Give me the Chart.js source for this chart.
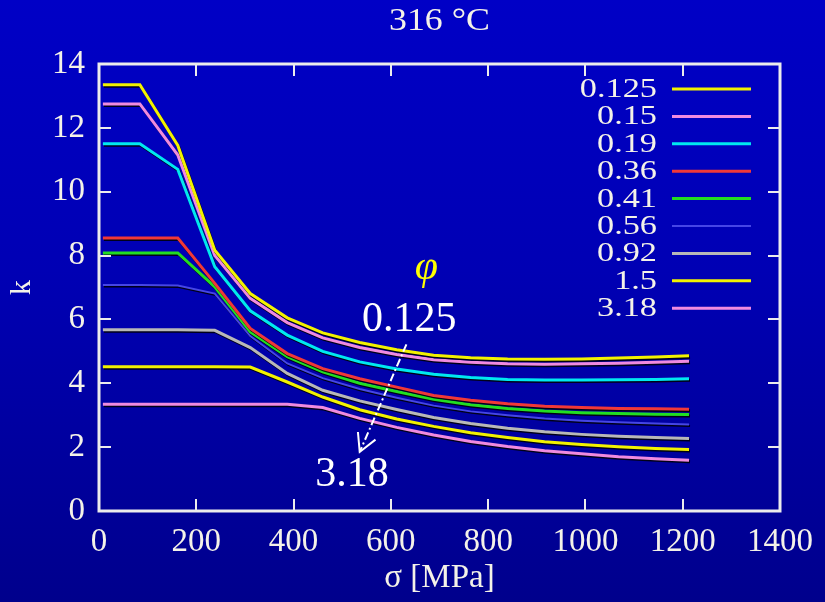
<!DOCTYPE html>
<html>
<head>
<meta charset="utf-8">
<script src="https://cdn.jsdelivr.net/npm/chart.js@4/dist/chart.umd.min.js"></script>
<style>
  html, body { margin: 0; padding: 0; }
  body { width: 825px; height: 602px; overflow: hidden;
         background: linear-gradient(to bottom, #0000c6 0%, #0000b4 45%, #00008c 100%); }
  canvas { display: block; }
</style>
</head>
<body>
<canvas id="c" width="825" height="602"></canvas>
<script>
// ---- data ----
const sigma = [8, 84, 162, 238, 311, 387, 460, 536, 612, 688, 764, 840, 916, 992, 1068, 1144, 1213];
const phiLabels = ['0.125', '0.15', '0.19', '0.36', '0.41', '0.56', '0.92', '1.5', '3.18'];
const k_0125 = [13.35, 13.35, 11.45, 8.17, 6.81, 6.05, 5.58, 5.28, 5.05, 4.88, 4.80, 4.76, 4.75, 4.76, 4.79, 4.82, 4.86];
const k_015  = [12.75, 12.75, 11.15, 8.00, 6.66, 5.90, 5.42, 5.12, 4.90, 4.74, 4.66, 4.61, 4.60, 4.61, 4.63, 4.66, 4.69];
const k_019  = [11.50, 11.50, 10.70, 7.65, 6.27, 5.51, 5.00, 4.67, 4.45, 4.28, 4.18, 4.12, 4.10, 4.10, 4.11, 4.12, 4.14];
const k_036  = [8.55, 8.55, 8.55, 7.13, 5.72, 4.93, 4.46, 4.14, 3.88, 3.62, 3.47, 3.36, 3.28, 3.24, 3.21, 3.20, 3.19];
const k_041  = [8.08, 8.08, 8.08, 7.02, 5.61, 4.83, 4.36, 4.00, 3.74, 3.50, 3.33, 3.21, 3.13, 3.08, 3.05, 3.03, 3.02];
const k_056  = [7.08, 7.08, 7.06, 6.81, 5.48, 4.62, 4.16, 3.82, 3.55, 3.30, 3.12, 3.00, 2.90, 2.83, 2.78, 2.74, 2.71];
const k_092  = [5.68, 5.68, 5.68, 5.66, 5.12, 4.31, 3.78, 3.45, 3.18, 2.93, 2.74, 2.59, 2.48, 2.40, 2.34, 2.30, 2.27];
const k_15   = [4.52, 4.52, 4.52, 4.52, 4.51, 4.04, 3.57, 3.17, 2.88, 2.65, 2.45, 2.30, 2.17, 2.08, 2.01, 1.96, 1.93];
const k_318  = [3.34, 3.34, 3.34, 3.34, 3.34, 3.34, 3.24, 2.90, 2.62, 2.38, 2.18, 2.02, 1.89, 1.79, 1.70, 1.64, 1.59];
const xTicks = [0, 200, 400, 600, 800, 1000, 1200, 1400];
const yTicks = [0, 2, 4, 6, 8, 10, 12, 14];
const titleText = '316 °C';
const xTitle = 'σ [MPa]';
const yTitle = 'k';
const phiSymbol = 'φ';
const arrowFrom = '0.125';
const arrowTo = '3.18';

// ---- styles ----
const seriesK = [k_0125, k_015, k_019, k_036, k_041, k_056, k_092, k_15, k_318];
const colors = ['#f2f200', '#f08ae0', '#00e8f0', '#f03838', '#22dd22', '#4646e6', '#b8b8b8', '#f2f200', '#f08ae0'];
const widths = [3, 3, 3, 3, 3, 2, 3, 3, 3];
const SERIF = '"Liberation Serif", "DejaVu Serif", serif';
const TXT = '#f4f2e8';

const datasets = seriesK.map((arr, i) => ({
  label: phiLabels[i],
  data: sigma.map((s, j) => ({ x: s, y: arr[j] })),
  borderColor: colors[i],
  backgroundColor: colors[i],
  borderWidth: widths[i],
  pointRadius: 0,
  tension: 0,
  fill: false
}));

const shadowPlugin = {
  id: 'shadow',
  beforeDatasetDraw(chart) {
    const ctx = chart.ctx;
    ctx.save();
    ctx.shadowColor = 'rgba(0,0,0,0.85)';
    ctx.shadowOffsetX = 1;
    ctx.shadowOffsetY = 1.5;
    ctx.shadowBlur = 0.5;
  },
  afterDatasetDraw(chart) { chart.ctx.restore(); }
};

const framePlugin = {
  id: 'frame',
  afterDatasetsDraw(chart) {
    const { ctx, chartArea: a, scales: { x, y } } = chart;
    ctx.save();
    ctx.strokeStyle = '#ececec';
    ctx.lineWidth = 2;
    const tl = 12;
    ctx.beginPath();
    xTicks.slice(1, -1).forEach(v => {
      const px = Math.round(x.getPixelForValue(v));
      ctx.moveTo(px, a.bottom); ctx.lineTo(px, a.bottom - tl);
      ctx.moveTo(px, a.top); ctx.lineTo(px, a.top + tl);
    });
    yTicks.slice(1, -1).forEach(v => {
      const py = Math.round(y.getPixelForValue(v));
      ctx.moveTo(a.left, py); ctx.lineTo(a.left + tl, py);
      ctx.moveTo(a.right, py); ctx.lineTo(a.right - tl, py);
    });
    ctx.stroke();
    ctx.lineWidth = 3;
    ctx.strokeRect(a.left, a.top, a.right - a.left, a.bottom - a.top);
    ctx.restore();
  }
};

function wideText(ctx, text, x, y, sx) {
  ctx.save();
  ctx.translate(x, y);
  ctx.scale(sx, 1);
  ctx.fillText(text, 0, 0);
  ctx.restore();
}

const titlePlugin = {
  id: 'centredTitle',
  afterDraw(chart) {
    const { ctx, chartArea: a } = chart;
    ctx.save();
    ctx.font = '32px ' + SERIF;
    ctx.fillStyle = TXT;
    ctx.textAlign = 'center';
    ctx.textBaseline = 'middle';
    wideText(ctx, titleText, (a.left + a.right) / 2, a.top - 42, 1.12);
    ctx.restore();
  }
};

const legendPlugin = {
  id: 'insideLegend',
  afterDraw(chart) {
    const { ctx, chartArea: a } = chart;
    ctx.save();
    ctx.font = '27px ' + SERIF;
    ctx.textAlign = 'right';
    ctx.textBaseline = 'middle';
    chart.data.datasets.forEach((ds, i) => {
      const yy = a.top + 25 + i * 27.4;
      ctx.fillStyle = TXT;
      wideText(ctx, ds.label, a.right - 123, yy + 1, 1.27);
      ctx.strokeStyle = ds.borderColor;
      ctx.lineWidth = ds.borderWidth;
      ctx.beginPath();
      ctx.moveTo(a.right - 108, yy); ctx.lineTo(a.right - 29, yy);
      ctx.stroke();
    });
    ctx.restore();
  }
};

const annotation = {
  phi: { x: 673, y: 7.6 },
  from: { x: 638, y: 5.98 },
  to: { x: 520, y: 1.12 },
  arrowStart: { x: 632, y: 5.22 },
  arrowEnd: { x: 536, y: 1.85 }
};

const annotationPlugin = {
  id: 'phiAnnotation',
  afterDraw(chart) {
    const { ctx, scales: { x, y } } = chart;
    const P = p => [x.getPixelForValue(p.x), y.getPixelForValue(p.y)];
    ctx.save();
    ctx.textAlign = 'center';
    ctx.textBaseline = 'middle';
    let [px, py] = P(annotation.phi);
    ctx.fillStyle = '#ffff00';
    ctx.font = 'italic 42px ' + SERIF;
    ctx.fillText(phiSymbol, px, py);
    ctx.fillStyle = '#ffffff';
    ctx.font = '42px ' + SERIF;
    [px, py] = P(annotation.from);
    ctx.fillText(arrowFrom, px, py);
    [px, py] = P(annotation.to);
    ctx.fillText(arrowTo, px, py);
    const [x1, y1] = P(annotation.arrowStart);
    const [x2, y2] = P(annotation.arrowEnd);
    ctx.strokeStyle = '#ffffff';
    ctx.lineWidth = 2;
    ctx.setLineDash([8, 3, 2, 3]);
    ctx.beginPath(); ctx.moveTo(x1, y1); ctx.lineTo(x2, y2); ctx.stroke();
    ctx.setLineDash([]);
    const ang = Math.atan2(y2 - y1, x2 - x1);
    const hl = 20, spread = 0.5;
    ctx.beginPath();
    ctx.moveTo(x2 - hl * Math.cos(ang - spread), y2 - hl * Math.sin(ang - spread));
    ctx.lineTo(x2, y2);
    ctx.lineTo(x2 - hl * Math.cos(ang + spread), y2 - hl * Math.sin(ang + spread));
    ctx.stroke();
    ctx.restore();
  }
};

new Chart(document.getElementById('c'), {
  type: 'line',
  data: { datasets },
  plugins: [shadowPlugin, framePlugin, titlePlugin, legendPlugin, annotationPlugin],
  options: {
    responsive: false,
    animation: false,
    devicePixelRatio: 1,
    layout: { padding: { left: 0, right: 39, top: 64, bottom: 0 } },
    plugins: {
      legend: { display: false },
      tooltip: { enabled: false },
      title: { display: false }
    },
    scales: {
      x: {
        type: 'linear', min: 0, max: 1400,
        afterBuildTicks: s => { s.ticks = xTicks.map(v => ({ value: v })); },
        afterFit: s => { s.height = 91; },
        grid: { display: false, drawTicks: false },
        border: { display: false },
        ticks: { color: TXT, font: { family: SERIF, size: 33 }, padding: 12, maxRotation: 0, autoSkip: false,
                 callback: v => String(v) },
        title: { display: true, text: xTitle, color: TXT, font: { family: SERIF, size: 33 }, padding: { top: 0, bottom: 4 } }
      },
      y: {
        type: 'linear', min: 0, max: 14,
        afterBuildTicks: s => { s.ticks = yTicks.map(v => ({ value: v })); },
        afterFit: s => { s.width = 99; },
        grid: { display: false, drawTicks: false },
        border: { display: false },
        ticks: { color: TXT, font: { family: SERIF, size: 33 }, padding: 14, callback: v => String(v) },
        title: { display: true, text: yTitle, color: TXT, font: { family: SERIF, size: 30 }, padding: { top: 4, bottom: 0 } }
      }
    }
  }
});
</script>
</body>
</html>
